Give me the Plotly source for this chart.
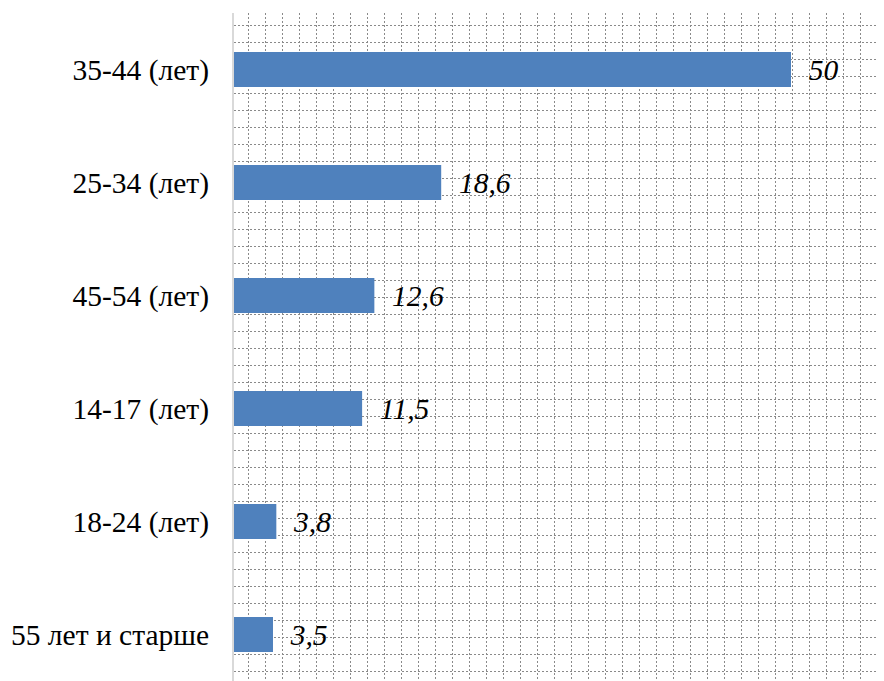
import plotly.graph_objects as go

categories = ["35-44 (лет)", "25-34 (лет)", "45-54 (лет)", "14-17 (лет)", "18-24 (лет)", "55 лет и старше"]
values = [50, 18.6, 12.6, 11.5, 3.8, 3.5]
labels = ["\u00a0\u00a0" + (f"{v:g}".replace(".", ",")) for v in values]

PAGE = 8  # default body margin of the html page
W, H = 884 - PAGE, 681 - PAGE
L, T = 234 - PAGE, 13 - PAGE
SERIF = "Liberation Serif"
grid_style = dict(showgrid=True, gridcolor="#8a8a8a", gridwidth=1, griddash="2px,2px",
                  zeroline=False, showticklabels=False, ticks="", showline=False,
                  automargin=False)

fig = go.Figure()
# empty helper trace so the background grid axes are drawn
fig.add_trace(go.Scatter(x=[None], y=[None], xaxis="x", yaxis="y", mode="markers",
                         hoverinfo="skip", showlegend=False))
fig.add_trace(go.Bar(
    x=values, y=categories, orientation="h",
    xaxis="x2", yaxis="y2",
    marker=dict(color="#4f81bd", line=dict(width=0)),
    width=0.31,
    text=labels, textposition="outside", cliponaxis=False,
    textfont=dict(family=SERIF, size=29.5, color="black", style="italic"),
    texttemplate="<i>%{text}</i>",
    hoverinfo="skip",
))

fig.update_layout(
    width=W, height=H,
    margin=dict(l=L, r=0, t=T, b=0),
    paper_bgcolor="white", plot_bgcolor="white",
    showlegend=False,
    xaxis=dict(range=[0, W - L], tick0=14, dtick=17, **grid_style),
    yaxis=dict(range=[H - T, 0], tick0=12, dtick=17, **grid_style),
    xaxis2=dict(overlaying="x", range=[0, (W - L) / 11.14], showgrid=False, zeroline=False,
                showticklabels=False, ticks="", showline=False, automargin=False),
    yaxis2=dict(overlaying="y", type="category", categoryorder="array", categoryarray=categories,
                range=[-0.5 + (H - T) / 113.0, -0.5], showgrid=False, zeroline=False,
                showline=True, linecolor="#d9d9d9", linewidth=2, ticks="",
                ticklabelstandoff=17, automargin=False,
                tickfont=dict(family=SERIF, size=29.5, color="black")),
)

fig.write_html("out.html")
